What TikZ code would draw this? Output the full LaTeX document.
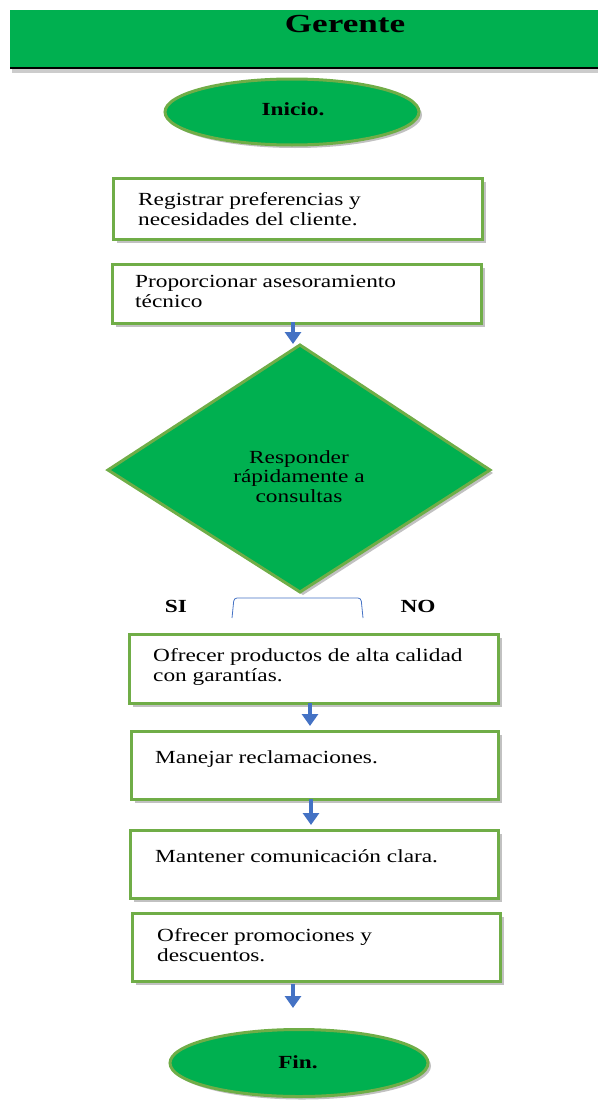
\documentclass[tikz,border=0pt]{standalone}
\usepackage{fontspec}
\usepackage{graphicx}
\setmainfont{Liberation Serif}
\usetikzlibrary{shapes.geometric,shadows,arrows.meta}
\definecolor{fgreen}{HTML}{00B050}
\definecolor{lgreen}{HTML}{70AD47}
\definecolor{ablue}{HTML}{4472C4}
\newcommand{\sx}[1]{\scalebox{1.26}[1]{#1}}
\tikzset{
  sh/.style={drop shadow={shadow xshift=3pt,shadow yshift=-3pt,opacity=0.35,fill=black!70}},
  procbox/.style={draw=lgreen,line width=3pt,fill=white,sh,anchor=north west,inner sep=0pt},
  term/.style={ellipse,draw=lgreen,line width=3pt,fill=fgreen,sh},
  txt/.style={anchor=north west,align=left,font=\fontsize{18.5}{20}\selectfont,inner sep=0pt},
  btxt/.style={font=\fontsize{18.5}{20}\selectfont\bfseries,inner sep=0pt},
  flow/.style={draw=ablue,line width=3.2pt,-{Triangle[length=12pt,width=16pt]}},
}
\begin{document}
\begin{tikzpicture}[x=1pt,y=-1pt]
\useasboundingbox (0,0) rectangle (598,1108);
% header
\fill[fgreen] (10,10) rectangle (598,68);
\fill[black!40,opacity=0.5] (12,69) rectangle (598,73);
\draw[black,line width=2.5pt] (10,68) -- (598,68);
\node[font=\fontsize{26}{28}\selectfont\bfseries,inner sep=0pt] (title) at (345,24) {\scalebox{1.35}[1]{Gerente}};
% start
\node[term,minimum width=254pt,minimum height=66pt] (inicio) at (292,112) {};
\node[btxt] (inicioT) at (293,109) {\sx{Inicio.}};
% box 1
\node[procbox,minimum width=369pt,minimum height=61pt] (b1) at (112,177) {};
\node[txt] (b1t) at (138,192) {\sx{Registrar preferencias y}\\\sx{necesidades del cliente.}};
% box 2
\node[procbox,minimum width=369pt,minimum height=59pt] (b2) at (111,263) {};
\node[txt] (b2t) at (135,275) {\sx{Proporcionar asesoramiento}\\\sx{técnico}};
\coordinate (a1s) at (293,322);
\coordinate (a1e) at (293,344);
\draw[flow] (a1s) -- (a1e);
% diamond
\path[fill=black!70,opacity=0.35] (303,348) -- (493,473) -- (303,595) -- (111,473) -- cycle;
\draw[lgreen,line width=3pt,fill=fgreen] (300,345) coordinate (dt) -- (490,470) coordinate (dr) -- (300,592) coordinate (db) -- (108,470) coordinate (dl) -- cycle;
\node[align=center,font=\fontsize{18.5}{19.5}\selectfont,inner sep=0pt,anchor=north] (dtext) at (299,450) {\sx{Responder}\\\sx{rápidamente a}\\\sx{consultas}};
% brace
\draw[ablue,line width=0.8pt,rounded corners=3pt] (232,618) coordinate (bl) -- (234,598) -- (361,598) -- (363,618) coordinate (br);
\node[btxt] (si) at (176,606) {\sx{SI}};
\node[btxt] (no) at (418,606) {\sx{NO}};
% box 3
\node[procbox,minimum width=369pt,minimum height=69pt] (b3) at (128,633) {};
\node[txt] (b3t) at (153,648) {\sx{Ofrecer productos de alta calidad}\\\sx{con garantías.}};
\coordinate (a2s) at (310,703);
\coordinate (a2e) at (310,726);
\draw[flow] (a2s) -- (a2e);
% box 4
\node[procbox,minimum width=367pt,minimum height=68pt] (b4) at (130,730) {};
\node[txt] (b4t) at (155,750) {\sx{Manejar reclamaciones.}};
\coordinate (a3s) at (311,799);
\coordinate (a3e) at (311,825);
\draw[flow] (a3s) -- (a3e);
% box 5
\node[procbox,minimum width=368pt,minimum height=68pt] (b5) at (129,829) {};
\node[txt] (b5t) at (155,849) {\sx{Mantener comunicación clara.}};
% box 6
\node[procbox,minimum width=368pt,minimum height=68pt] (b6) at (131,912) {};
\node[txt] (b6t) at (157,928) {\sx{Ofrecer promociones y}\\\sx{descuentos.}};
\coordinate (a4s) at (293,984);
\coordinate (a4e) at (293,1008);
\draw[flow] (a4s) -- (a4e);
% end
\node[term,minimum width=258pt,minimum height=67pt] (fin) at (299,1063) {};
\node[btxt] (finT) at (298,1062) {\sx{Fin.}};
\end{tikzpicture}
\end{document}
